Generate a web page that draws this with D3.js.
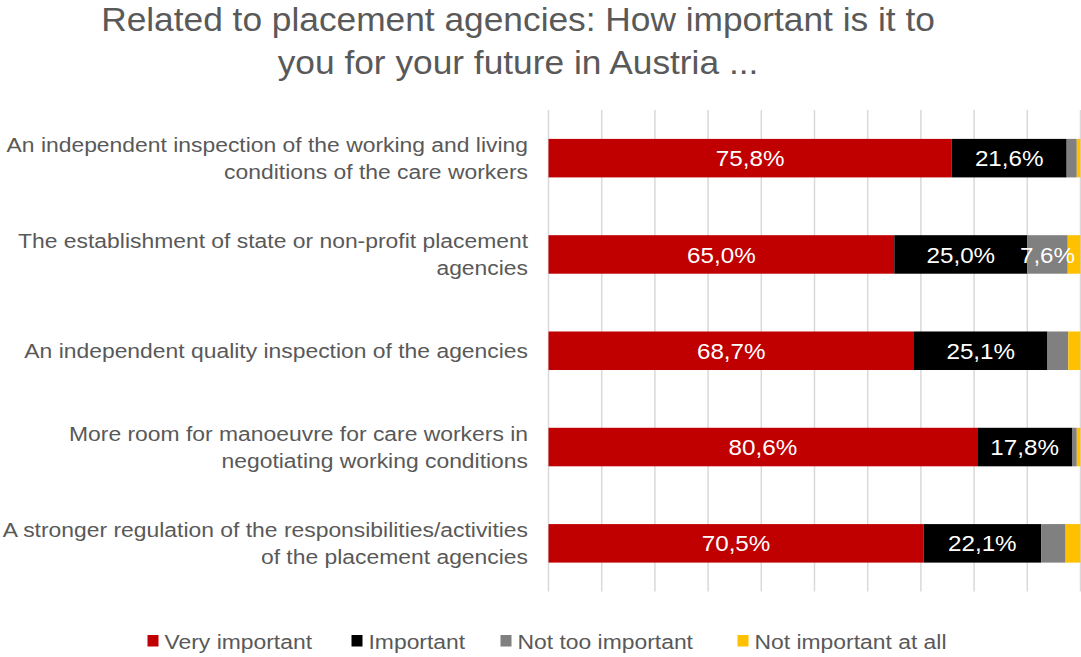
<!DOCTYPE html>
<html>
<head>
<meta charset="utf-8">
<script src="https://cdn.jsdelivr.net/npm/d3@7"></script>
<style>
  html, body { margin: 0; padding: 0; background: #fff; }
  svg { display: block; }
</style>
</head>
<body>
<svg id="chart" width="1081" height="657"></svg>
<script>
// Survey items (label lines) and the share of each answer, in percent
const categories = [
  ["An independent inspection of the working and living", "conditions of the care workers"],
  ["The establishment of state or non-profit placement", "agencies"],
  ["An independent quality inspection of the agencies"],
  ["More room for manoeuvre for care workers in", "negotiating working conditions"],
  ["A stronger regulation of the responsibilities/activities", "of the placement agencies"]
];
const seriesNames = ["Very important", "Important", "Not too important", "Not important at all"];
const veryImportant    = [75.8, 65.0, 68.7, 80.6, 70.5];
const important        = [21.6, 25.0, 25.1, 17.8, 22.1];
const notTooImportant  = [1.9, 7.6, 3.9, 0.9, 4.6];
const notImportantAll  = [0.7, 2.4, 2.3, 0.7, 2.8];
// Which segments carry a value label
const labelled = [
  [true, true, false, false],
  [true, true, true, false],
  [true, true, false, false],
  [true, true, false, false],
  [true, true, false, false]
];
const gridTicks = [0, 10, 20, 30, 40, 50, 60, 70, 80, 90, 100];
const colors = ["#C00000", "#000000", "#808080", "#FFC000"];
const titleLines = ["Related to placement agencies: How important is it to", "you for your future in Austria ..."];

const rows = categories.map((c, i) => ({
  idx: i,
  label: c,
  "Very important": veryImportant[i],
  "Important": important[i],
  "Not too important": notTooImportant[i],
  "Not important at all": notImportantAll[i]
}));

const svg = d3.select("#chart");
const textColor = "#595959";
const font = "'Liberation Sans', Arial, sans-serif";
const stretch = 1.09; // slightly wide lettering

const plot = { left: 548.5, right: 1080.5, top: 110, bottom: 591.5 };

const x = d3.scaleLinear().domain([0, 100]).range([plot.left, plot.right]);
const y = d3.scaleBand().domain(rows.map(r => r.idx)).range([plot.top, plot.bottom]).paddingInner(0.6).paddingOuter(0.3);

// Places a horizontally stretched text at (px, py)
function place(sel, px, py, sx) {
  return sel.attr("x", 0).attr("y", 0)
    .attr("transform", (d, i) => `translate(${px(d, i)},${py(d, i)}) scale(${sx},1)`);
}

// Title
place(svg.append("g").selectAll("text")
  .data(titleLines)
  .join("text"), () => 518, (d, i) => 30.5 + i * 43.5, 1.07)
  .attr("text-anchor", "middle")
  .attr("fill", textColor)
  .style("font-family", font)
  .style("font-size", "33px")
  .text(d => d);

// Vertical gridlines
svg.append("g")
  .selectAll("line")
  .data(gridTicks)
  .join("line")
  .attr("x1", d => x(d)).attr("x2", d => x(d))
  .attr("y1", plot.top).attr("y2", plot.bottom)
  .attr("stroke", "#D9D9D9")
  .attr("stroke-width", 1.5);

// Stacked bars
const stack = d3.stack().keys(seriesNames)(rows);

const layers = svg.append("g")
  .selectAll("g")
  .data(stack)
  .join("g")
  .attr("fill", (d, i) => colors[i]);

layers.selectAll("rect")
  .data(d => d)
  .join("rect")
  .attr("x", d => x(d[0]))
  .attr("width", d => x(d[1]) - x(d[0]))
  .attr("y", d => y(d.data.idx))
  .attr("height", y.bandwidth());

// Value labels
const fmt = v => v.toFixed(1).replace(".", ",") + "%";
svg.append("g")
  .selectAll("g")
  .data(stack)
  .join("g")
  .each(function(layer, si) {
    place(d3.select(this).selectAll("text")
      .data(layer.filter(d => labelled[d.data.idx][si]))
      .join("text"),
      d => (x(d[0]) + x(d[1])) / 2,
      d => y(d.data.idx) + y.bandwidth() / 2, 1.1)
      .attr("dy", "0.37em")
      .attr("text-anchor", "middle")
      .attr("fill", "#fff")
      .style("font-family", font)
      .style("font-size", "22px")
      .text(d => fmt(d[1] - d[0]));
  });

// Category labels
const lines = rows.flatMap(r => r.label.map((t, k) => ({ t, k, n: r.label.length, idx: r.idx })));
place(svg.append("g").selectAll("text")
  .data(lines)
  .join("text"),
  () => 528,
  d => y(d.idx) + y.bandwidth() / 2 + (d.k - (d.n - 1) / 2) * 26.7, stretch)
  .attr("dy", "0.34em")
  .attr("text-anchor", "end")
  .attr("fill", textColor)
  .style("font-family", font)
  .style("font-size", "21px")
  .text(d => d.t);

// Legend
const legendX = [147.5, 351.5, 500.5, 737.5];
const leg = svg.append("g")
  .selectAll("g")
  .data(seriesNames)
  .join("g")
  .attr("transform", (d, i) => `translate(${legendX[i]},641)`);
leg.append("rect")
  .attr("x", 0).attr("y", -6)
  .attr("width", 11).attr("height", 11.5)
  .attr("fill", (d, i) => colors[i]);
place(leg.append("text"), () => 17, () => 0, stretch)
  .attr("dy", "0.36em")
  .attr("fill", textColor)
  .style("font-family", font)
  .style("font-size", "21px")
  .text(d => d);
</script>
</body>
</html>
